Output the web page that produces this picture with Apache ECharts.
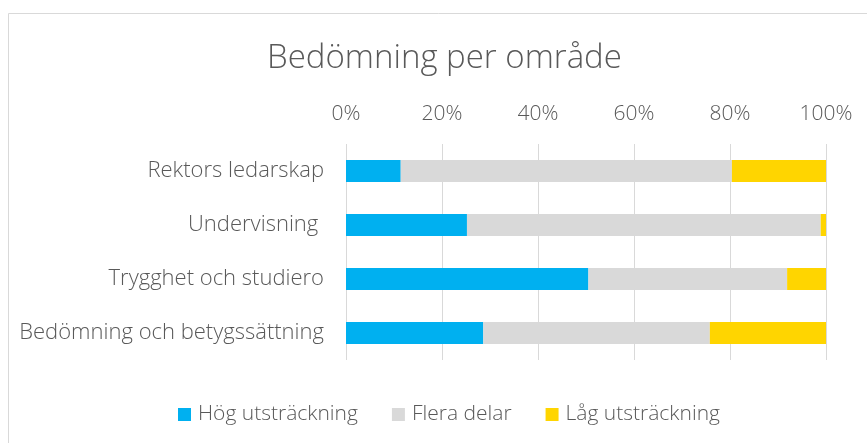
<!DOCTYPE html>
<html>
<head>
<meta charset="utf-8">
<script src="https://cdn.jsdelivr.net/npm/echarts@6/dist/echarts.min.js"></script>
<style>
  html, body { margin: 0; padding: 0; background: #fff; }
  #chart { width: 867px; height: 443px; }
</style>
</head>
<body>
<div id="chart"></div>
<script>
// kategorier uppifrån och ned
const categories = ['Rektors ledarskap', 'Undervisning ', 'Trygghet och studiero', 'Bedömning och betygssättning'];
const hog = [11.4, 25.2, 50.5, 28.6];
const flera = [69.0, 73.7, 41.4, 47.2];
const lag = [19.6, 1.1, 8.1, 24.2];
const seriesNames = ['Hög utsträckning', 'Flera delar', 'Låg utsträckning'];
const colors = ['#00B0F0', '#D9D9D9', '#FFD500'];

const font = 'Open Sans';
const textColor = '#595959';

const chart = echarts.init(document.getElementById('chart'));

const makeSeries = (name, data, color) => ({
  name: name,
  type: 'bar',
  stack: 'total',
  barWidth: 22,
  data: data,
  itemStyle: { color: color },
  emphasis: { disabled: true },
});

chart.setOption({
  animation: false,
  backgroundColor: '#fff',
  graphic: [
    {
      type: 'rect',
      shape: { x: 8.5, y: 13.5, width: 900, height: 500 },
      style: { fill: 'none', stroke: '#d9d9d9', lineWidth: 1 },
      silent: true,
    },
  ],
  title: {
    text: 'Bedömning per område',
    left: 262,
    top: 37,
    textStyle: { fontFamily: font, fontWeight: 300, fontSize: 33, color: textColor },
  },
  legend: {
    top: 399,
    left: 173,
    itemWidth: 13,
    itemHeight: 13,
    itemGap: 34,
    icon: 'rect',
    textStyle: { fontFamily: font, fontWeight: 300, fontSize: 21, color: textColor, padding: [0, 0, 0, 2] },
    data: seriesNames,
  },
  grid: { left: 346, right: 41, top: 144, height: 216, containLabel: false },
  xAxis: {
    type: 'value',
    position: 'top',
    min: 0,
    max: 100,
    interval: 20,
    axisLine: { show: false },
    axisTick: { show: false },
    axisLabel: {
      formatter: '{value}%',
      margin: 19,
      fontFamily: font,
      fontWeight: 300,
      fontSize: 21,
      color: textColor,
    },
    splitLine: { lineStyle: { color: '#d9d9d9', width: 1 } },
  },
  yAxis: {
    type: 'category',
    inverse: true,
    data: categories,
    axisLine: { show: false },
    axisTick: { show: false },
    axisLabel: {
      margin: 22,
      fontFamily: font,
      fontWeight: 300,
      fontSize: 22,
      color: textColor,
    },
  },
  series: [
    makeSeries(seriesNames[0], hog, colors[0]),
    makeSeries(seriesNames[1], flera, colors[1]),
    makeSeries(seriesNames[2], lag, colors[2]),
  ],
});
</script>
</body>
</html>
